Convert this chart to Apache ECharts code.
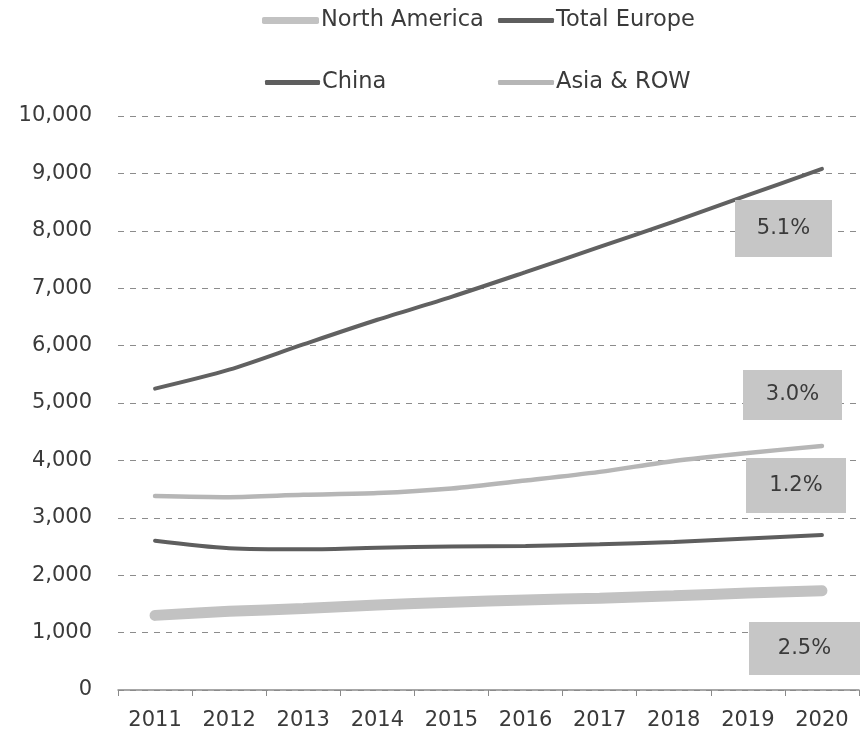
<!DOCTYPE html>
<html>
<head>
<meta charset="utf-8">
<script src="https://cdn.jsdelivr.net/npm/echarts@6/dist/echarts.min.js"></script>
<style>
  html, body { margin: 0; padding: 0; background: #ffffff; }
  #chart { width: 864px; height: 737px; }
</style>
</head>
<body>
<div id="chart"></div>
<script>
const years = ['2011','2012','2013','2014','2015','2016','2017','2018','2019','2020'];
const northAmerica = [1300, 1370, 1420, 1480, 1530, 1570, 1600, 1640, 1690, 1730];
const totalEurope  = [2600, 2470, 2450, 2480, 2500, 2510, 2540, 2580, 2640, 2700];
const china        = [5250, 5580, 6020, 6450, 6850, 7280, 7720, 8160, 8620, 9080];
const asiaRow      = [3380, 3360, 3400, 3430, 3510, 3650, 3800, 3990, 4130, 4250];
const yTicks = { min: 0, max: 10000, interval: 1000 };
const growthLabels = ['5.1%', '3.0%', '1.2%', '2.5%'];

const FONT = 'DejaVu Sans';
const TXT = '#3a3a3a';
const chart = echarts.init(document.getElementById('chart'), null, { renderer: 'canvas' });

function leg(name, left, top, w, h, color) {
  return {
    data: [{ name: name, icon: 'roundRect', itemStyle: { color: color } }],
    left: left, top: top, itemWidth: w, itemHeight: h, itemGap: 0,
    padding: 0, selectedMode: false,
    textStyle: { fontFamily: FONT, fontSize: 22.5, color: TXT, padding: [0, 0, 0, -3] }
  };
}

const boxes = [
  { x: 735, y: 200, w: 97,  h: 57, t: growthLabels[0] },
  { x: 743, y: 370, w: 99,  h: 50, t: growthLabels[1] },
  { x: 746, y: 458, w: 100, h: 55, t: growthLabels[2] },
  { x: 749, y: 622, w: 111, h: 53, t: growthLabels[3] }
];
const graphics = [];
boxes.forEach(b => {
  graphics.push({ type: 'rect', z: 100, shape: { x: b.x, y: b.y, width: b.w, height: b.h }, style: { fill: '#c6c6c6' } });
  graphics.push({ type: 'text', z: 101, x: b.x + b.w / 2, y: b.y + b.h / 2,
    style: { text: b.t, fill: TXT, font: '21px "' + FONT + '"', textAlign: 'center', textVerticalAlign: 'middle' } });
});

const option = {
  backgroundColor: '#ffffff',
  animation: false,
  legend: [
    leg('North America', 262, 9, 57, 7, '#c2c2c2'),
    leg('Total Europe', 498, 9, 56, 5, '#5e5e5e'),
    leg('China', 265, 71, 55, 5, '#5e5e5e'),
    leg('Asia & ROW', 498, 71, 56, 5, '#b6b6b6')
  ],
  grid: { left: 118, right: 5, top: 116, bottom: 47, containLabel: false },
  xAxis: {
    type: 'category',
    data: years,
    boundaryGap: true,
    axisLine: { show: true, lineStyle: { color: '#8a8a8a', width: 1.5 } },
    axisTick: { show: true, length: 6, lineStyle: { color: '#8a8a8a' } },
    axisLabel: { fontFamily: FONT, fontSize: 21, color: TXT, margin: 20 }
  },
  yAxis: {
    type: 'value',
    min: yTicks.min, max: yTicks.max, interval: yTicks.interval,
    axisLine: { show: false },
    axisTick: { show: false },
    axisLabel: {
      fontFamily: FONT, fontSize: 21, color: TXT, margin: 26,
      formatter: v => v.toLocaleString('en-US')
    },
    splitLine: { show: true, lineStyle: { color: '#8c8c8c', type: [6, 6], width: 1 } }
  },
  series: [
    { name: 'North America', type: 'line', data: northAmerica, smooth: 0.3, symbol: 'none',
      lineStyle: { color: '#c2c2c2', width: 11, cap: 'round' }, itemStyle: { color: '#c2c2c2' }, z: 3 },
    { name: 'Total Europe', type: 'line', data: totalEurope, smooth: 0.3, symbol: 'none',
      lineStyle: { color: '#5e5e5e', width: 4, cap: 'round' }, itemStyle: { color: '#5e5e5e' }, z: 3 },
    { name: 'China', type: 'line', data: china, smooth: 0.3, symbol: 'none',
      lineStyle: { color: '#616161', width: 4, cap: 'round' }, itemStyle: { color: '#616161' }, z: 3 },
    { name: 'Asia & ROW', type: 'line', data: asiaRow, smooth: 0.3, symbol: 'none',
      lineStyle: { color: '#b6b6b6', width: 4.5, cap: 'round' }, itemStyle: { color: '#b6b6b6' }, z: 3 }
  ],
  graphic: graphics
};
chart.setOption(option);
</script>
</body>
</html>
